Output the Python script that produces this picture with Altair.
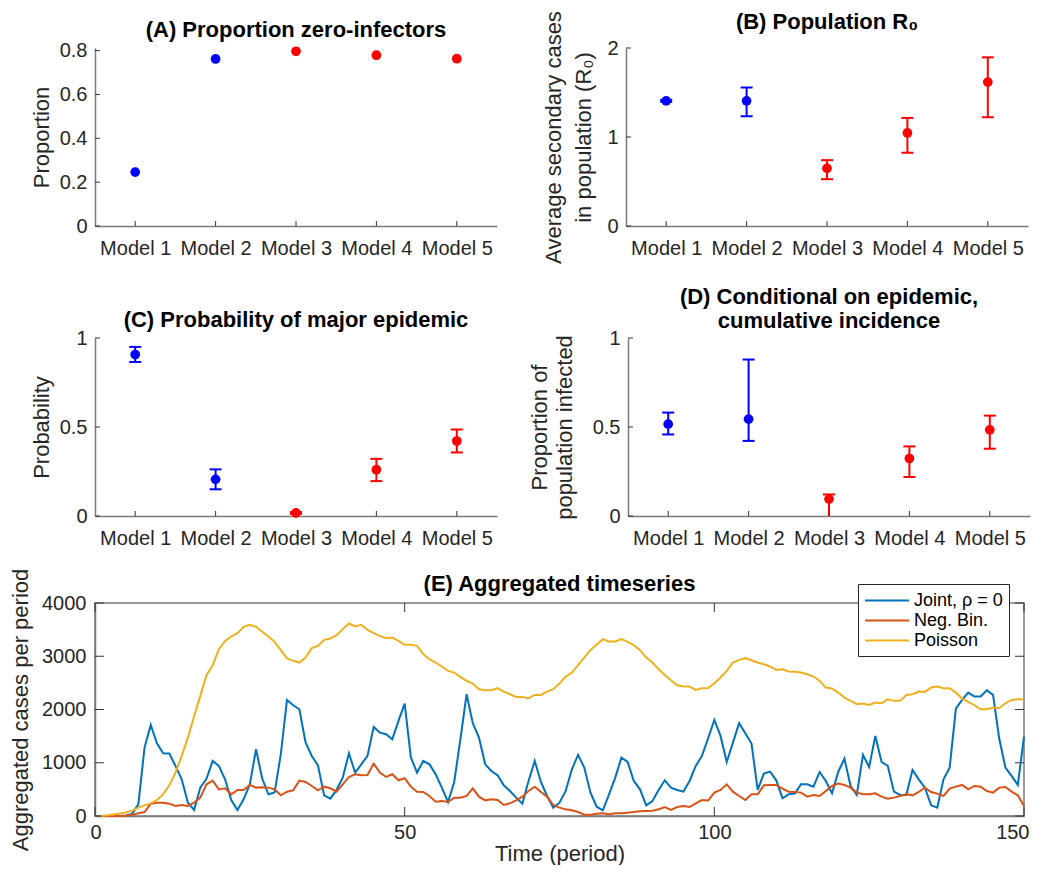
import altair as alt
import pandas as pd

FONT = "Liberation Sans"

# ---------------- data ----------------
models = ["Model 1", "Model 2", "Model 3", "Model 4", "Model 5"]

zero_prop = [0.246, 0.762, 0.797, 0.779, 0.763]

r0 = [1.406, 1.406, 0.647, 1.045, 1.617]
r0_lo = [1.395, 1.233, 0.526, 0.823, 1.222]
r0_hi = [1.417, 1.556, 0.740, 1.214, 1.895]

p_epi = [0.907, 0.206, 0.017, 0.260, 0.421]
p_lo = [0.865, 0.150, 0.012, 0.196, 0.357]
p_hi = [0.950, 0.262, 0.022, 0.321, 0.486]

cum_inc = [0.516, 0.544, 0.095, 0.323, 0.484]
cum_lo = [0.458, 0.422, -0.03, 0.219, 0.378]
cum_hi = [0.581, 0.879, 0.121, 0.391, 0.564]

ticks_a = [0, 0.2, 0.4, 0.6, 0.8]
ticks_b = [0, 1, 2]
ticks_cd = [0, 0.5, 1]

series_names = ["Joint, ρ = 0", "Neg. Bin.", "Poisson"]
time = list(range(1, 151))
joint = [0, 0, 0, 0, 10, 40, 220, 1285, 1710, 1366,
         1178, 1172, 940, 690, 250, 113, 530, 700, 1034, 940,
         690, 300, 113, 313, 595, 1253, 700, 407, 440, 1160,
         2180, 2080, 2005, 1380, 1128, 952, 388, 326, 490, 720,
         1178, 815, 970, 1128, 1673, 1566, 1535, 1441, 1786, 2111,
         1100, 815, 1034, 970, 783, 533, 263, 640, 1441, 2287,
         1742, 1472, 970, 846, 764, 576, 470, 345, 232, 658,
         1034, 640, 376, 157, 250, 470, 877, 1147, 909, 439,
         175, 107, 407, 720, 1096, 1015, 658, 501, 200, 282,
         489, 670, 533, 489, 457, 658, 940, 1128, 1460, 1805,
         1504, 1015, 1378, 1742, 1554, 1360, 489, 796, 833, 670,
         332, 407, 420, 595, 595, 551, 827, 658, 426, 827,
         1078, 564, 395, 1147, 921, 1504, 1015, 940, 457, 395,
         395, 865, 689, 533, 200, 157, 689, 909, 2018, 2180,
         2318, 2243, 2243, 2362, 2274, 1454, 909, 752, 583, 1491]
negbin = [0, 0, 0, 0, 5, 20, 50, 75, 232, 250,
          250, 232, 188, 207, 188, 250, 345, 595, 664, 500,
          520, 407, 490, 490, 583, 533, 539, 533, 500, 388,
          457, 482, 664, 640, 564, 482, 551, 520, 457, 595,
          733, 783, 764, 770, 984, 815, 733, 783, 670, 708,
          551, 457, 451, 376, 270, 282, 263, 345, 345, 376,
          520, 363, 294, 313, 300, 207, 238, 294, 363, 470,
          551, 451, 363, 207, 157, 125, 107, 75, 25, 25,
          44, 50, 31, 50, 50, 63, 75, 88, 94, 100,
          125, 169, 113, 169, 188, 169, 238, 300, 290, 439,
          489, 595, 457, 376, 300, 407, 407, 576, 583, 583,
          514, 457, 451, 439, 363, 395, 376, 470, 564, 608,
          583, 533, 439, 407, 407, 426, 363, 326, 345, 376,
          407, 388, 451, 533, 451, 420, 376, 514, 551, 583,
          501, 564, 551, 470, 439, 533, 545, 457, 388, 188]
poisson = [5, 15, 30, 45, 65, 100, 157, 200, 238, 300,
           407, 576, 815, 1128, 1472, 1867, 2256, 2644, 2832, 3133,
           3289, 3371, 3434, 3553, 3590, 3553, 3459, 3371, 3271, 3114,
           2957, 2914, 2882, 2976, 3152, 3195, 3308, 3333, 3396, 3509,
           3615, 3559, 3590, 3496, 3434, 3383, 3340, 3352, 3289, 3214,
           3214, 3195, 3039, 2945, 2882, 2807, 2726, 2694, 2613, 2538,
           2487, 2381, 2362, 2362, 2400, 2337, 2287, 2237, 2237, 2212,
           2274, 2274, 2337, 2381, 2487, 2619, 2694, 2832, 2976, 3120,
           3214, 3321, 3277, 3277, 3321, 3271, 3208, 3114, 2976, 2882,
           2757, 2650, 2550, 2456, 2431, 2431, 2368, 2400, 2400, 2494,
           2600, 2726, 2882, 2932, 2964, 2926, 2882, 2850, 2807, 2744,
           2757, 2713, 2707, 2694, 2663, 2619, 2538, 2412, 2393, 2318,
           2224, 2162, 2099, 2112, 2086, 2130, 2118, 2193, 2162, 2162,
           2274, 2287, 2337, 2331, 2412, 2431, 2400, 2400, 2318, 2205,
           2143, 2080, 2005, 2005, 2036, 2024, 2118, 2180, 2193, 2193]
e_xticks = [0, 50, 100, 150]
e_yticks = [0, 1000, 2000, 3000, 4000]

# ---------------- styling ----------------
MODEL_RANGE = ["#0000FF", "#0000FF", "#FF0000", "#FF0000", "#FF0000"]
LINE_RANGE = ["#0072BD", "#D95319", "#EDB120"]
TICK_COLOR = "#333333"

PW, PH = 402, 178


def dot_panel(vals, lo, hi, ymax, yticks, title, ytitle, title_offset, title_lh, title_pad):
    df = pd.DataFrame({"model": models, "v": vals})
    xscale = alt.Scale(type="point", domain=models, padding=0.5)
    yscale = alt.Scale(domain=[0, ymax], nice=False, zero=True)
    xaxis = alt.Axis(title=None, labelAngle=0, ticks=False, tickSize=0, labelPadding=12)
    yaxis = alt.Axis(title=ytitle, values=yticks, format="~g", ticks=False, tickSize=0,
                     labelPadding=8, titlePadding=title_pad, titleLineHeight=title_lh,
                     labelFlush=False)

    def X():
        return alt.X("model:N", sort=models, scale=xscale, axis=xaxis)

    def Y(field):
        return alt.Y(field, scale=yscale, axis=yaxis, title=ytitle)

    col = alt.Color("model:N", scale=alt.Scale(domain=models, range=MODEL_RANGE), legend=None)
    layers = []
    ytk = alt.Chart(pd.DataFrame({"v": yticks})).mark_rule(color=TICK_COLOR, strokeWidth=1).encode(
        y=Y("v:Q"), x=alt.value(0), x2=alt.value(5))
    xtk = alt.Chart(df).mark_rule(color=TICK_COLOR, strokeWidth=1).encode(
        x=X(), y=alt.value(PH), y2=alt.value(PH - 5))
    layers += [ytk, xtk]
    if lo is not None:
        edf = pd.DataFrame({"model": models, "v": lo, "hi": hi})
        base = alt.Chart(edf)
        layers.append(base.mark_rule(strokeWidth=2, opacity=1, clip=True).encode(
            x=X(), y=Y("v:Q"), y2="hi:Q", color=col))
        layers.append(base.mark_tick(size=12, thickness=2, opacity=1, clip=True).encode(
            x=X(), y=Y("v:Q"), color=col))
        layers.append(base.mark_tick(size=12, thickness=2, opacity=1, clip=True).encode(
            x=X(), y=Y("hi:Q"), color=col))
    pts = alt.Chart(df).mark_circle(size=95, opacity=1).encode(x=X(), y=Y("v:Q"), color=col)
    layers.append(pts)
    return alt.layer(*layers).properties(
        width=PW, height=PH,
        title=alt.TitleParams(title, offset=title_offset, frame="group"))


# an empty first title line keeps the left edge of the left column in line with panel E
pa = dot_panel(zero_prop, None, None, 0.812, ticks_a, "(A) Proportion zero-infectors",
               ["", "Proportion"], -1, 8, 6)
pb = dot_panel(r0, r0_lo, r0_hi, 2.0, ticks_b, "(B) Population R₀",
               ["Average secondary cases", "in population (R₀)"], -23, 30, 11)
pc = dot_panel(p_epi, p_lo, p_hi, 1.0, ticks_cd, "(C) Probability of major epidemic",
               ["", "Probability"], -4, 8, 6)
pd_ = dot_panel(cum_inc, cum_lo, cum_hi, 1.0, ticks_cd,
                ["(D) Conditional on epidemic,", "cumulative incidence"],
                ["Proportion of", "population infected"], -5, 25, 16)

# ---------------- panel E ----------------
EW, EH = 929, 213
n = len(time)
df_e = pd.DataFrame({
    "t": time * 3,
    "cases": joint + negbin + poisson,
    "series": [series_names[0]] * n + [series_names[1]] * n + [series_names[2]] * n,
})
ex = alt.Scale(domain=[0, 150], nice=False)
ey = alt.Scale(domain=[0, 4000], nice=False)
exaxis = alt.Axis(values=e_xticks, title="Time (period)", ticks=False, tickSize=0,
                  labelPadding=6, titlePadding=1, format="d",
                  labelFlush=True, labelFlushOffset=5)
eyaxis = alt.Axis(values=e_yticks, title="Aggregated cases per period", ticks=False,
                  tickSize=0, labelPadding=9, titlePadding=9, format="d", labelFlush=False)


def EX(field):
    return alt.X(field, scale=ex, axis=exaxis, title="Time (period)")


def EY(field):
    return alt.Y(field, scale=ey, axis=eyaxis, title="Aggregated cases per period")


lines = alt.Chart(df_e).mark_line(strokeWidth=2).encode(
    x=EX("t:Q"), y=EY("cases:Q"),
    color=alt.Color("series:N", sort=series_names,
                    scale=alt.Scale(domain=series_names, range=LINE_RANGE),
                    legend=alt.Legend(title=None, orient="none", legendX=763, legendY=-19,
                                      symbolType="M-1,0H3.63", symbolSize=361,
                                      symbolStrokeWidth=2,
                                      labelFontSize=18, labelFont=FONT, labelColor="#000000",
                                      fillColor="#ffffff", strokeColor="#262626", padding=6,
                                      rowPadding=0, labelOffset=29, labelLimit=300)),
)
eyt = pd.DataFrame({"cases": e_yticks})
ext = pd.DataFrame({"t": e_xticks})
e_l = alt.Chart(eyt).mark_rule(color=TICK_COLOR, strokeWidth=1).encode(
    y=EY("cases:Q"), x=alt.value(0), x2=alt.value(9))
e_r = alt.Chart(eyt).mark_rule(color=TICK_COLOR, strokeWidth=1).encode(
    y=EY("cases:Q"), x=alt.value(EW - 9), x2=alt.value(EW))
e_b = alt.Chart(ext).mark_rule(color=TICK_COLOR, strokeWidth=1).encode(
    x=EX("t:Q"), y=alt.value(EH), y2=alt.value(EH - 9))
e_t = alt.Chart(ext).mark_rule(color=TICK_COLOR, strokeWidth=1).encode(
    x=EX("t:Q"), y=alt.value(0), y2=alt.value(9))
pe = alt.layer(e_l, e_r, e_b, e_t, lines).properties(
    width=EW, height=EH,
    title=alt.TitleParams("(E) Aggregated timeseries", offset=-28, frame="group"),
    view=alt.ViewBackground(stroke="#7a7a7a", strokeWidth=1.5))

row1 = alt.hconcat(pa, pb, spacing=45)
row2 = alt.hconcat(pc, pd_, spacing=31)
top = alt.vconcat(row1, row2, spacing=22)
chart = alt.vconcat(top, pe, spacing=19).resolve_scale(color="independent").configure(
    font=FONT,
    padding={"left": 0, "top": 2, "right": 2, "bottom": 0},
).configure_view(stroke=None).configure_axis(
    labelFont=FONT, labelFontSize=20, labelColor="#262626",
    titleFont=FONT, titleFontSize=22, titleFontWeight="normal", titleColor="#262626",
    domainColor="#7a7a7a", domainWidth=1.5, grid=False,
).configure_title(
    font=FONT, fontSize=22, fontWeight="bold", color="#000000", anchor="middle",
    lineHeight=24,
)

chart.save("out.html", embed_options={"renderer": "svg", "actions": False})
